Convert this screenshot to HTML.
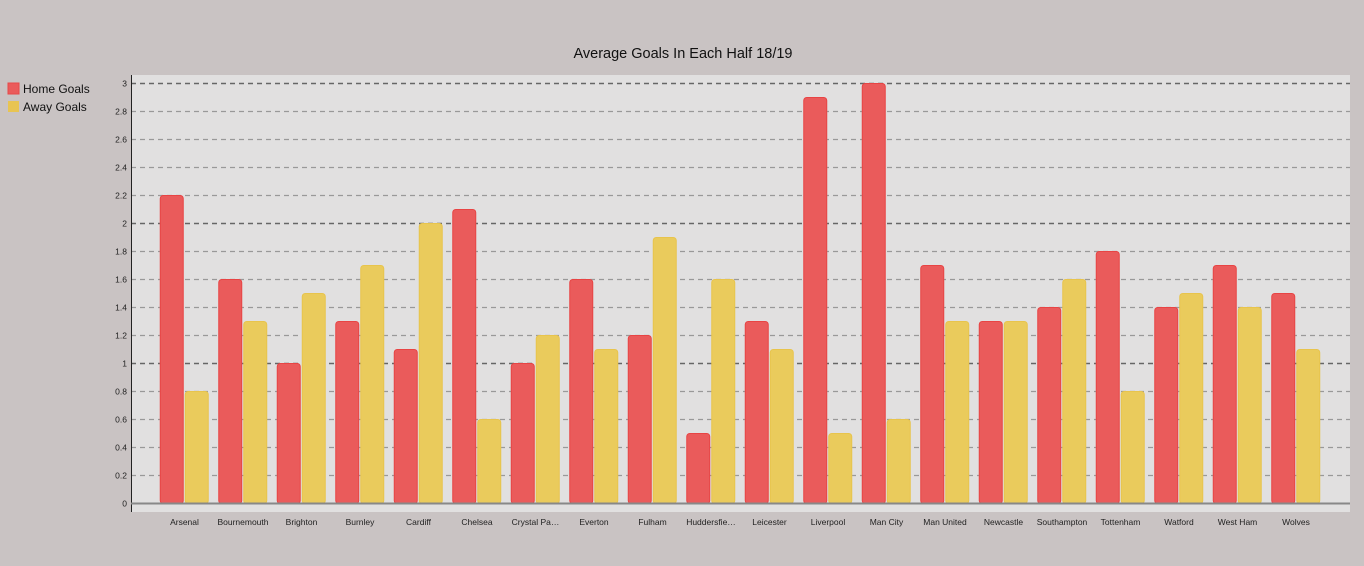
<!DOCTYPE html>
<html><head><meta charset="utf-8"><style>
body{margin:0;background:#c9c3c3;font-family:"Liberation Sans",sans-serif;}
svg{display:block}
</style></head><body>
<svg width="1364" height="566">
<text x="683" y="58" text-anchor="middle" font-size="14.5" fill="#111">Average Goals In Each Half 18/19</text>
<g>
<rect x="8" y="83" width="11" height="11" fill="#ea5b5b" stroke="#e84848"/>
<text x="23" y="93" font-size="12" fill="#111">Home Goals</text>
<rect x="8" y="101" width="11" height="11" fill="#e8c452"/>
<text x="23" y="111" font-size="12" fill="#111">Away Goals</text>
</g>
<rect x="131" y="75" width="1219" height="437" fill="#e1e0e0"/>
<g id="grid"></g><g id="bars"></g><g id="xl"></g>
<line x1="131.5" y1="75" x2="131.5" y2="512" stroke="#222"/>
<line x1="131" y1="503.5" x2="1350" y2="503.5" stroke="#888" stroke-width="2"/>
</svg>
<script>
const teams=["Arsenal","Bournemouth","Brighton","Burnley","Cardiff","Chelsea","Crystal Pa…","Everton","Fulham","Huddersfie…","Leicester","Liverpool","Man City","Man United","Newcastle","Southampton","Tottenham","Watford","West Ham","Wolves"];
const home=[2.2,1.6,1.0,1.3,1.1,2.1,1.0,1.6,1.2,0.5,1.3,2.9,3.0,1.7,1.3,1.4,1.8,1.4,1.7,1.5];
const away=[0.8,1.3,1.5,1.7,2.0,0.6,1.2,1.1,1.9,1.6,1.1,0.5,0.6,1.3,1.3,1.6,0.8,1.5,1.4,1.1];
const yTicks=[0,0.2,0.4,0.6,0.8,1,1.2,1.4,1.6,1.8,2,2.2,2.4,2.6,2.8,3];
const NS="http://www.w3.org/2000/svg";
const y=v=>503.5-v*140;
const band=58.5, x0=155.25;
const gx=i=>x0+i*band;
function mk(t,a,p){const e=document.createElementNS(NS,t);for(const k in a)e.setAttribute(k,a[k]);p.appendChild(e);return e;}
const grid=document.getElementById('grid');
yTicks.forEach(v=>{
 if(v>0){const major=Math.abs(v-Math.round(v))<1e-9;
 const l=mk('line',{x1:131,x2:1350,y1:y(v),y2:y(v),stroke:major?'#666':'#999','stroke-width':major?1.5:1.2,'stroke-dasharray':'5,4'},grid);
 
 }
 const t=mk('text',{x:127,y:y(v)+3,'text-anchor':'end','font-size':8.5,fill:'#222'},grid);
 t.textContent=String(v);
 
 
});
const bars=document.getElementById('bars'),xl=document.getElementById('xl');
teams.forEach((n,i)=>{
 const g=gx(i);
 const h=mk('rect',{x:g+5,y:y(home[i]),width:23,height:503.5-y(home[i]),rx:3,fill:'#ea5b5b',stroke:'#e84444'},bars);
 
 
 const a=mk('rect',{x:g+30,y:y(away[i]),width:23,height:503.5-y(away[i]),rx:3,fill:'#eacb5c',stroke:'#e8c44c'},bars);
 
 
 const t=mk('text',{x:g+band/2,y:525,'text-anchor':'middle','font-size':8.5,fill:'#222'},xl);
 t.textContent=n;
 
 
});
</script>
</body></html>
